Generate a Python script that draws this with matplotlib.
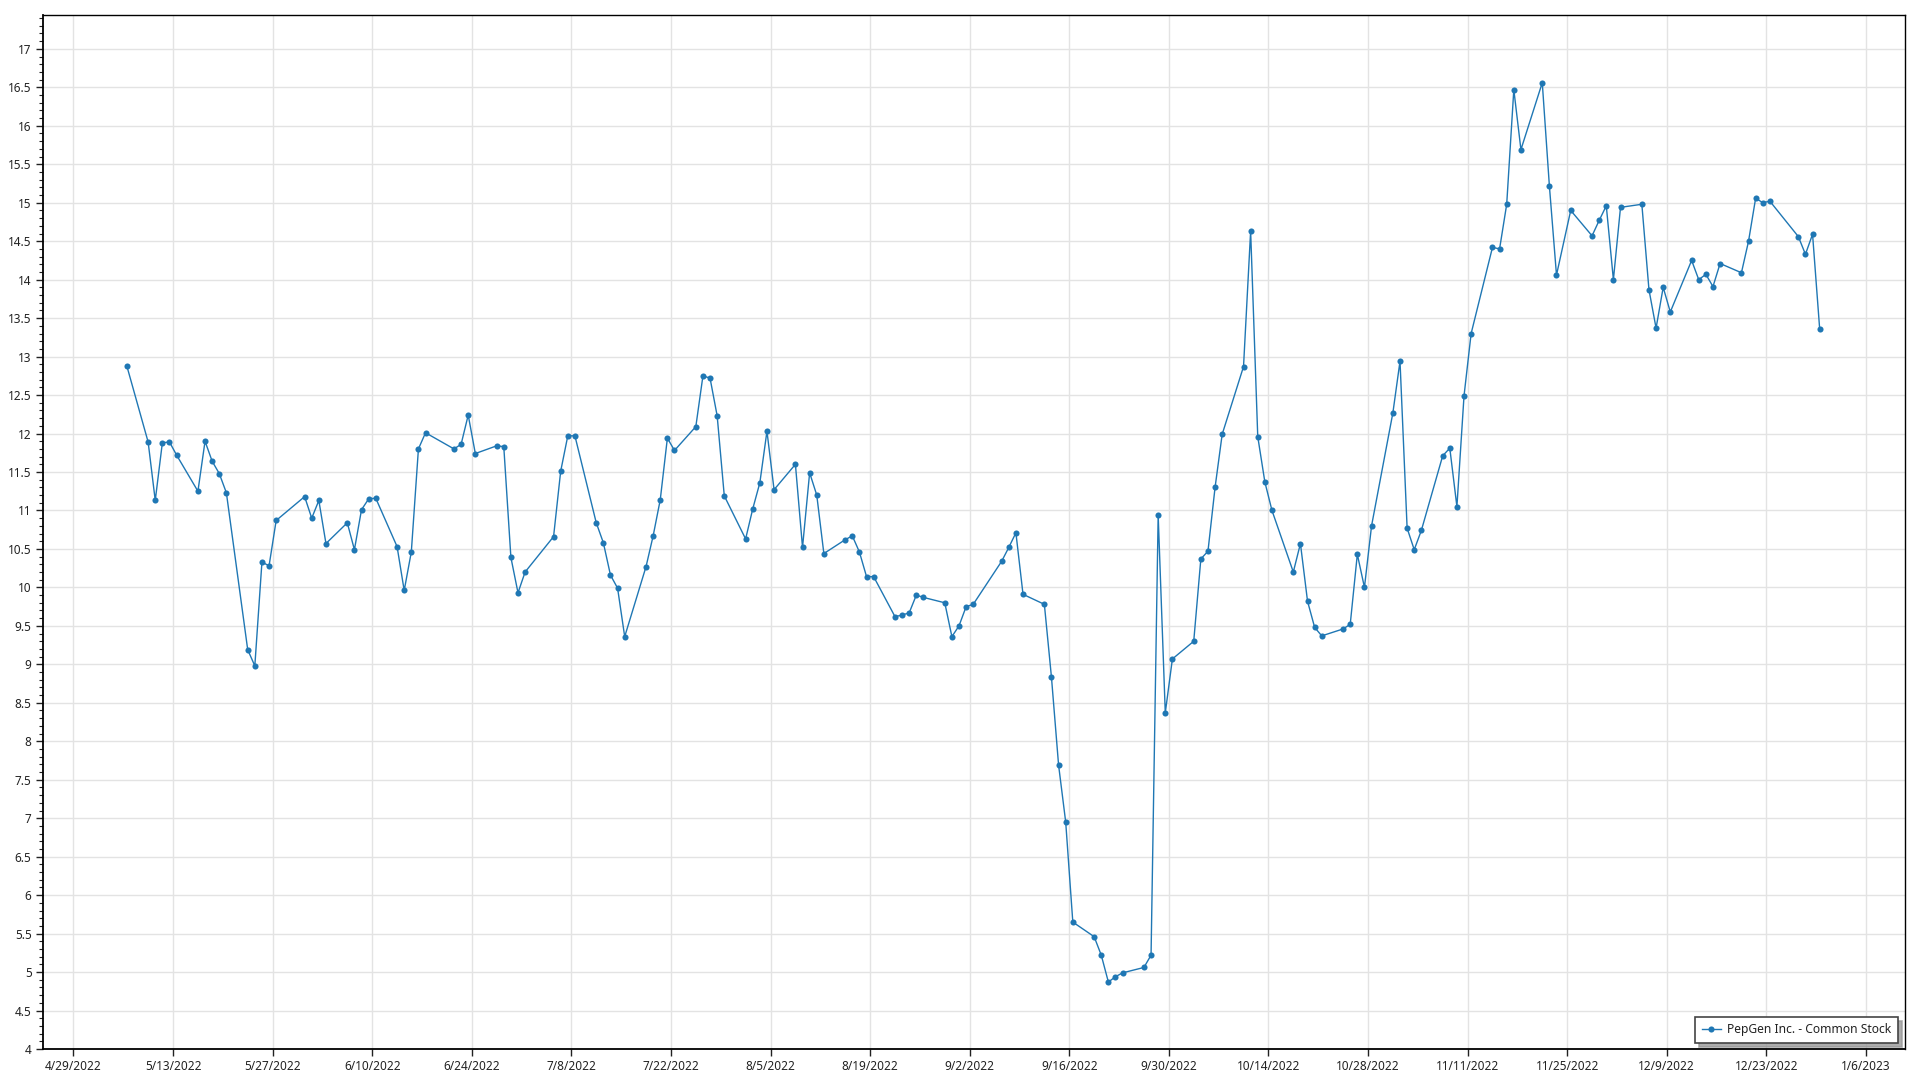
import matplotlib
matplotlib.use("Agg")
import matplotlib.pyplot as plt
import matplotlib.dates as mdates
from matplotlib.ticker import MultipleLocator, FuncFormatter
import numpy as np
import pandas as pd

series_name = "PepGen Inc. - Common Stock"

dates = [
    "2022-05-06", "2022-05-09", "2022-05-10", "2022-05-11", "2022-05-12", "2022-05-13",
    "2022-05-16", "2022-05-17", "2022-05-18", "2022-05-19", "2022-05-20",
    "2022-05-23", "2022-05-24", "2022-05-25", "2022-05-26", "2022-05-27",
    "2022-05-31", "2022-06-01", "2022-06-02", "2022-06-03",
    "2022-06-06", "2022-06-07", "2022-06-08", "2022-06-09", "2022-06-10",
    "2022-06-13", "2022-06-14", "2022-06-15", "2022-06-16", "2022-06-17",
    "2022-06-21", "2022-06-22", "2022-06-23", "2022-06-24",
    "2022-06-27", "2022-06-28", "2022-06-29", "2022-06-30", "2022-07-01",
    "2022-07-05", "2022-07-06", "2022-07-07", "2022-07-08",
    "2022-07-11", "2022-07-12", "2022-07-13", "2022-07-14", "2022-07-15",
    "2022-07-18", "2022-07-19", "2022-07-20", "2022-07-21", "2022-07-22",
    "2022-07-25", "2022-07-26", "2022-07-27", "2022-07-28", "2022-07-29",
    "2022-08-01", "2022-08-02", "2022-08-03", "2022-08-04", "2022-08-05",
    "2022-08-08", "2022-08-09", "2022-08-10", "2022-08-11", "2022-08-12",
    "2022-08-15", "2022-08-16", "2022-08-17", "2022-08-18", "2022-08-19",
    "2022-08-22", "2022-08-23", "2022-08-24", "2022-08-25", "2022-08-26",
    "2022-08-29", "2022-08-30", "2022-08-31", "2022-09-01", "2022-09-02",
    "2022-09-06", "2022-09-07", "2022-09-08", "2022-09-09",
    "2022-09-12", "2022-09-13", "2022-09-14", "2022-09-15", "2022-09-16",
    "2022-09-19", "2022-09-20", "2022-09-21", "2022-09-22", "2022-09-23",
    "2022-09-26", "2022-09-27", "2022-09-28", "2022-09-29", "2022-09-30",
    "2022-10-03", "2022-10-04", "2022-10-05", "2022-10-06", "2022-10-07",
    "2022-10-10", "2022-10-11", "2022-10-12", "2022-10-13", "2022-10-14",
    "2022-10-17", "2022-10-18", "2022-10-19", "2022-10-20", "2022-10-21",
    "2022-10-24", "2022-10-25", "2022-10-26", "2022-10-27", "2022-10-28",
    "2022-10-31", "2022-11-01", "2022-11-02", "2022-11-03", "2022-11-04",
    "2022-11-07", "2022-11-08", "2022-11-09", "2022-11-10", "2022-11-11",
    "2022-11-14", "2022-11-15", "2022-11-16", "2022-11-17", "2022-11-18",
    "2022-11-21", "2022-11-22", "2022-11-23", "2022-11-25",
    "2022-11-28", "2022-11-29", "2022-11-30", "2022-12-01", "2022-12-02",
    "2022-12-05", "2022-12-06", "2022-12-07", "2022-12-08", "2022-12-09",
    "2022-12-12", "2022-12-13", "2022-12-14", "2022-12-15", "2022-12-16",
    "2022-12-19", "2022-12-20", "2022-12-21", "2022-12-22", "2022-12-23",
    "2022-12-27", "2022-12-28", "2022-12-29", "2022-12-30",
]

prices = [
    12.88, 11.89, 11.13, 11.88, 11.89, 11.72,
    11.25, 11.90, 11.64, 11.48, 11.23,
    9.19, 8.98, 10.33, 10.28, 10.87,
    11.18, 10.90, 11.13, 10.57,
    10.84, 10.49, 11.01, 11.15, 11.16,
    10.53, 9.96, 10.46, 11.80, 12.01,
    11.80, 11.86, 12.24, 11.74,
    11.84, 11.83, 10.39, 9.93, 10.20,
    10.66, 11.51, 11.97, 11.97,
    10.84, 10.58, 10.16, 9.99, 9.36,
    10.27, 10.67, 11.14, 11.94, 11.78,
    12.09, 12.75, 12.72, 12.23, 11.19,
    10.63, 11.02, 11.36, 12.03, 11.27,
    11.60, 10.52, 11.49, 11.20, 10.44,
    10.62, 10.67, 10.46, 10.14, 10.14,
    9.62, 9.64, 9.67, 9.90, 9.87,
    9.80, 9.36, 9.50, 9.75, 9.78,
    10.34, 10.52, 10.71, 9.91,
    9.78, 8.83, 7.69, 6.95, 5.65,
    5.46, 5.22, 4.87, 4.94, 4.99,
    5.06, 5.22, 10.94, 8.37, 9.07,
    9.30, 10.37, 10.47, 11.30, 11.99,
    12.87, 14.63, 11.96, 11.37, 11.00,
    10.20, 10.57, 9.82, 9.48, 9.37,
    9.46, 9.52, 10.43, 10.00, 10.80,
    12.27, 12.94, 10.77, 10.49, 10.74,
    11.71, 11.81, 11.05, 12.49, 13.30,
    14.42, 14.40, 14.98, 16.47, 15.69,
    16.56, 15.22, 14.06, 14.90,
    14.57, 14.77, 14.96, 14.00, 14.94,
    14.98, 13.87, 13.37, 13.90, 13.58,
    14.25, 14.00, 14.07, 13.91, 14.21,
    14.09, 14.50, 15.06, 15.00, 15.02,
    14.56, 14.33, 14.59, 13.36,
]

x_tick_start = "2022-04-29"
x_tick_end = "2023-01-06"

plt.rcParams['font.family'] = ['Noto Sans', 'DejaVu Sans']

fig = plt.figure(figsize=(19.2, 10.8), dpi=100)
ax = fig.add_axes([0.0222, 0.0287, 0.9700, 0.9574])

x = pd.to_datetime(dates) + pd.Timedelta(hours=12)
ax.plot(x, prices, color="#1f77b4", linewidth=1.0, marker="o", markersize=4.4,
        markeredgewidth=0, label=series_name, zorder=3)

ax.set_xlim(pd.Timestamp("2022-04-24 16:00"), pd.Timestamp("2023-01-11 12:00"))
ax.set_ylim(4, 17.44)

ticks = pd.date_range(x_tick_start, x_tick_end, freq="14D")
ax.set_xticks(ticks)
ax.set_xticklabels([f"{t.month}/{t.day}/{t.year}" for t in ticks])

ax.yaxis.set_major_locator(MultipleLocator(0.5))
ax.yaxis.set_minor_locator(MultipleLocator(0.1))
ax.yaxis.set_major_formatter(FuncFormatter(lambda v, p: f"{v:g}"))

ax.grid(True, which="major", color="#e3e3e3", linewidth=1.0, zorder=0)
ax.set_axisbelow(True)

ax.tick_params(axis="both", which="major", labelsize=8.5, colors="#222222",
               length=5, width=1, direction="out", pad=3)
ax.tick_params(axis="y", which="minor", length=3, width=0.8, color="#222222")
ax.tick_params(axis="x", which="minor", length=0)

for s in ax.spines.values():
    s.set_color("#000000")
    s.set_linewidth(1.0)
ax.spines["left"].set_linewidth(1.3)
ax.spines["bottom"].set_linewidth(1.3)

leg = ax.legend(loc="lower right", bbox_to_anchor=(0.9962, 0.006), borderaxespad=0,
                fontsize=8.7, frameon=True, fancybox=False,
                shadow={'ox': 3, 'oy': -3, 'color': '#999999', 'alpha': 0.8},
                edgecolor="#444444", handlelength=1.6, borderpad=0.55,
                handletextpad=0.5, markerscale=1.0)
leg.get_frame().set_linewidth(1.2)
for t in leg.get_texts():
    t.set_color("#222222")

fig.savefig("out.png", dpi=100, facecolor="white")
